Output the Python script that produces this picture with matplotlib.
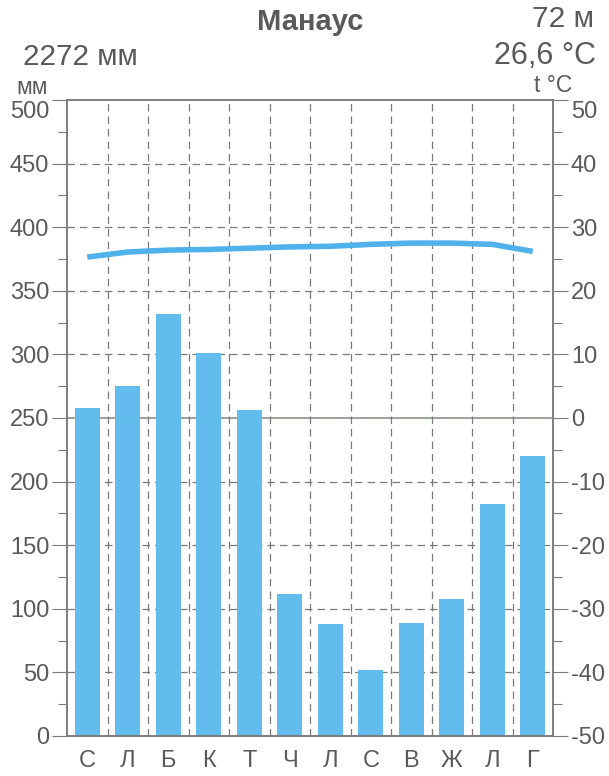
import numpy as np
from matplotlib import pyplot as plt
from matplotlib.transforms import ScaledTranslation

plt.rcParams['font.family'] = ['Liberation Sans', 'DejaVu Sans']
plt.rcParams['axes.unicode_minus'] = False

# климатограмма Манаус
months = ["С", "Л", "Б", "К", "Т", "Ч", "Л", "С", "В", "Ж", "Л", "Г"]
precip = [258, 275, 332, 301, 256, 112, 88, 52, 89, 108, 182, 220]
temp = [25.3, 26.1, 26.4, 26.5, 26.7, 26.9, 27.0, 27.3, 27.5, 27.5, 27.3, 26.2]

grey = "#5a5a5a"
line_grey = "#7a7a7a"
blue_bar = "#62bdee"
blue_line = "#4fb2ea"

fig = plt.figure(figsize=(6.09, 7.76), dpi=100)
ax = fig.add_axes([67 / 609, 1 - 736 / 776, 486 / 609, 636 / 776])

x = np.arange(len(months)) + 0.5
ax.bar(x, precip, width=0.62, color=blue_bar, zorder=2)

ax.set_xlim(0, 12)
ax.set_ylim(0, 500)
ax.set_xticks(x)
ax.set_xticklabels(months, fontsize=17, color=grey)
ax.tick_params(axis='x', which='major', length=0, pad=10)
ax.set_xticks(np.arange(1, 12), minor=True)
ax.tick_params(axis='x', which='minor', length=0)

# длина делений в пунктах (15 px и 9 px при dpi 100)
ax.set_yticks(np.arange(0, 501, 50))
ax.set_yticks(np.arange(25, 500, 50), minor=True)
ax.tick_params(axis='y', which='major', length=10.8, width=0.8, color=line_grey,
               labelsize=17, labelcolor=grey, pad=2)
ax.tick_params(axis='y', which='minor', length=6.5, width=0.8, color=line_grey)

ax.grid(axis='x', which='minor', linestyle=(0, (6, 4)), color=line_grey, lw=0.9, zorder=1)
for v in range(50, 500, 50):
    if v == 250:
        ax.axhline(v, color="#7d8a78", lw=1.1, zorder=1)
    else:
        ax.axhline(v, color=line_grey, lw=0.9, linestyle=(0, (6, 4)), zorder=1)

for s in ax.spines.values():
    s.set_color(line_grey)
    s.set_linewidth(1.1)

ax2 = ax.twinx()
ax2.set_ylim(-50, 50)
ax2.plot(x, temp, color=blue_line, lw=4, solid_capstyle='butt', solid_joinstyle='round')
ax2.set_yticks(np.arange(-50, 51, 10))
ax2.set_yticks(np.arange(-45, 50, 10), minor=True)
ax2.tick_params(axis='y', which='major', length=10.8, width=0.8, color=line_grey,
                labelsize=17, labelcolor=grey, pad=2)
ax2.tick_params(axis='y', which='minor', length=6.5, width=0.8, color=line_grey)
for s in ax2.spines.values():
    s.set_color(line_grey)
    s.set_linewidth(1.1)

# верхние подписи (500 и 50) опущены под линию
shift = ScaledTranslation(0, -9 / 100, fig.dpi_scale_trans)
for a in (ax, ax2):
    lab = a.yaxis.get_majorticklabels()[-1]
    lab.set_transform(lab.get_transform() + shift)

fig.text(310 / 609, 1 - 22 / 776, "Манаус", fontsize=21, fontweight='bold',
         color=grey, ha='center', va='center')
fig.text(594 / 609, 1 - 19 / 776, "72 м", fontsize=21.5, color=grey, ha='right', va='center')
fig.text(23 / 609, 1 - 57 / 776, "2272 мм", fontsize=21.3, color=grey, ha='left', va='center')
fig.text(596 / 609, 1 - 56 / 776, "26,6 °C", fontsize=22, color=grey, ha='right', va='center')
fig.text(16 / 609, 1 - 87 / 776, "мм", fontsize=16.5, color=grey, ha='left', va='center')
fig.text(572 / 609, 1 - 85 / 776, "t °C", fontsize=16.5, color=grey, ha='right', va='center')

plt.savefig("out.png", dpi=100)
